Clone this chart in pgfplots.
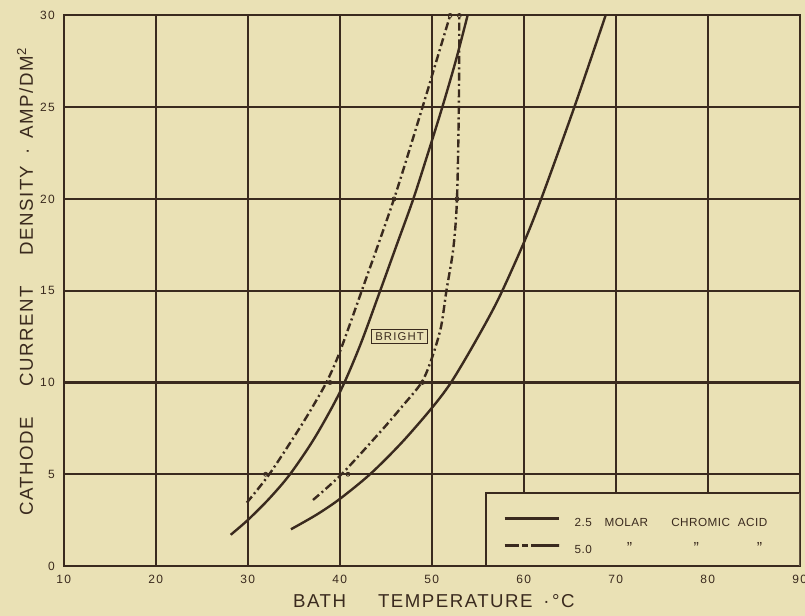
\documentclass[border=0pt]{standalone}
\usepackage{fontspec}
\setmainfont{Liberation Sans}
\newfontfamily\lblfont[LetterSpace=8]{Liberation Sans}
\newfontfamily\smfont[LetterSpace=10]{Liberation Sans}
\newfontfamily\legfont[LetterSpace=4]{Liberation Sans}
\usepackage{pgfplots}
\pgfplotsset{compat=1.18}

\definecolor{paper}{RGB}{234,225,181}
\definecolor{ink}{RGB}{58,42,30}

\begin{document}
\begin{tikzpicture}
% paper background (805x616 px, 1px = 0.75pt)
\fill[paper] (-47.78pt,-37.5pt) rectangle (555.98pt,424.5pt);
\begin{axis}[
    scale only axis,
    width=552pt, height=412.9pt,
    xmin=10, xmax=90, ymin=0, ymax=30,
    xtick={10,20,...,90}, ytick={0,5,...,30},
    grid=major,
    major grid style={ink, line width=1.55pt},
    axis line style={ink, line width=1.55pt},
    major tick length=0pt,
    /pgf/number format/assume math mode=true,
    ticklabel style={font=\smfont\fontsize{9}{10}\selectfont, text=ink},
    xticklabel style={anchor=center, yshift=-9.75pt},
    yticklabel style={anchor=east, inner sep=0pt, xshift=-6.5pt},
    label style={font=\lblfont\fontsize{14}{16}\selectfont, text=ink},
    xlabel={BATH\hspace{24pt}TEMPERATURE\hspace{8pt}·\hspace{2pt}°C},
    ylabel={CATHODE\hspace{23pt}CURRENT\hspace{23pt}DENSITY\hspace{8pt}·\hspace{8pt}AMP/DM\textsuperscript{2}},
    xlabel style={at={(axis description cs:0.503,0)}, anchor=center, yshift=-26.25pt},
    ylabel style={at={(axis description cs:0,0.516)}, anchor=center, yshift=29pt},
    legend style={at={(axis cs:57.75,1.6)}, anchor=west, draw=none, fill=none,
        inner sep=0pt, row sep=11pt, column sep=10.3pt,
        font=\legfont\fontsize{8.8}{10}\selectfont, text=ink,
        nodes={inner sep=0pt}},
    legend cell align=left,
]
% 2.5 molar, left solid
\addplot[ink, line width=1.8pt, smooth,
    legend image code/.code={\draw[ink, line width=2.2pt] (0pt,3.2pt) -- (41pt,3.2pt);}]
  coordinates {(28.15,1.7) (30,2.5) (32.3,3.65) (34.6,5) (37.3,7.0) (40,9.45) (42.2,12.0) (44.4,15) (46.2,17.5) (48,20) (49.6,22.5) (51.15,25) (52.6,27.5) (53.9,30)};
\addlegendentry{\rlap{2.5}\hspace{22.5pt}\rlap{MOLAR}\hspace{50pt}\rlap{CHROMIC}\hspace{50pt}ACID}
% 5.0 molar, left dash-dot
\addplot[ink, line width=1.8pt, smooth, dash pattern=on 6pt off 2.5pt on 1.5pt off 2.5pt,
    legend image code/.code={\draw[ink, line width=2.2pt, dash pattern=on 10.5pt off 2.5pt on 4.5pt off 2.5pt on 21pt off 0pt] (0pt,3.2pt) -- (41pt,3.2pt);}]
  coordinates {(29.9,3.45) (32.35,5) (35.5,7.4) (37.2,8.8) (38.65,10.1) (40,11.65) (42.4,15) (45.9,20) (49,25) (50.5,27.5) (52,30)};
\addlegendentry{\rlap{5.0}\hspace{41.25pt}\makebox[0pt]{\fontsize{12}{12}\selectfont ”}\hspace{49.95pt}\makebox[0pt]{\fontsize{12}{12}\selectfont ”}\hspace{47.55pt}\makebox[0pt]{\fontsize{12}{12}\selectfont ”}}
% 2.5 molar, right solid
\addplot[ink, line width=1.8pt, smooth, forget plot]
  coordinates {(34.7,2.0) (37.5,2.8) (40,3.65) (43.3,5) (46.7,6.7) (50,8.6) (52.1,10) (54.6,12.1) (57.2,14.5) (60,17.6) (61.9,20) (65.5,25) (68.9,30)};
% 5.0 molar, right dash-dot
\addplot[ink, line width=1.8pt, smooth, forget plot, dash pattern=on 6pt off 2.5pt on 1.5pt off 2.5pt]
  coordinates {(37.1,3.6) (40.2,5) (44.4,7.3) (46.8,8.7) (48.9,10) (50,11.3) (51,13) (51.6,15) (52.35,17.3) (52.75,20) (52.95,25) (53,30)};
% measured points
\addplot[only marks, mark=o, mark size=1.5pt, ink, line width=0.6pt, forget plot]
  coordinates {(31.95,5) (38.95,10) (45.9,20) (52,30) (40.9,5) (49,10) (52.75,20) (53,30)};
% legend frame and label box
\draw[ink, line width=1.55pt, fill=paper] (axis cs:55.9,0) rectangle (axis cs:90,4.0);
\node[draw=ink, line width=0.8pt, inner sep=2.5pt, text=ink,
      font=\smfont\fontsize{8.5}{9}\selectfont] at (axis cs:46.5,12.5) {BRIGHT};
\end{axis}
\pgfresetboundingbox
\path[use as bounding box] (-47.78pt,-37.5pt) rectangle (555.98pt,424.5pt);
\end{tikzpicture}
\end{document}
